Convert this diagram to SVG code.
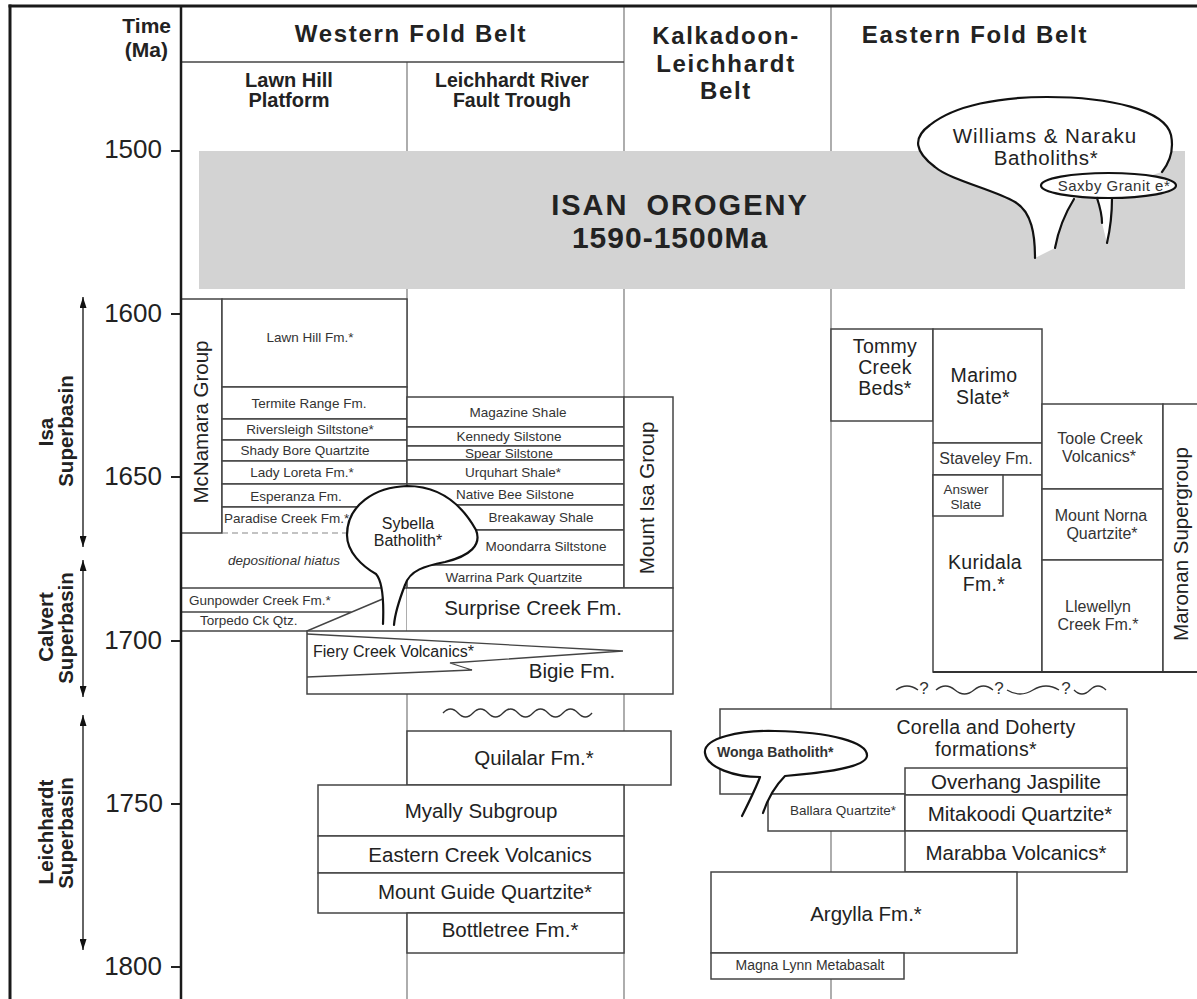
<svg xmlns="http://www.w3.org/2000/svg" width="1197" height="999" viewBox="0 0 1197 999">
<defs>
<marker id="ah" viewBox="0 0 11 7" refX="11" refY="3.5" markerWidth="11" markerHeight="7" markerUnits="userSpaceOnUse" orient="auto-start-reverse"><path d="M0,0 L11,3.5 L0,7 Z" fill="#111"/></marker>
</defs>
<style>
text{font-family:"Liberation Sans",Arial,Helvetica,sans-serif;fill:#222}
.box{fill:#fff;stroke:#444;stroke-width:1.5}
.ln{stroke:#444;stroke-width:1.5;fill:none}
.col{stroke:#777;stroke-width:1.2;fill:none}
.frame{stroke:#1a1a1a;fill:none}
.plut{fill:#fff;stroke:#111;stroke-width:2.2;stroke-linejoin:round;stroke-linecap:round}
.pl{fill:none;stroke:#111;stroke-width:2.2;stroke-linejoin:round;stroke-linecap:round}
.fw{fill:#fff;stroke:none}
.sm{font-size:13.5px;fill:#333;text-anchor:middle}
.md{font-size:20.5px;text-anchor:middle}
.m2{font-size:19.5px;text-anchor:middle;letter-spacing:0.3px}
.ed{font-size:16px;fill:#333;text-anchor:middle}
.hd{font-size:24px;font-weight:bold;text-anchor:middle;letter-spacing:1.7px}
.sh{font-size:20px;font-weight:bold;text-anchor:middle}
.tk{font-size:26px;text-anchor:end}
.sb{font-size:20.5px;font-weight:bold;text-anchor:middle}
.rot{font-size:20.5px;text-anchor:middle}
.wave{fill:none;stroke:#333;stroke-width:1.4}
</style>
<rect x="0" y="0" width="1197" height="999" fill="#fff"/>

<g id="grid">
<line class="col" x1="407" y1="62" x2="407" y2="999"/>
<line class="col" x1="624" y1="6" x2="624" y2="999"/>
<line class="col" x1="831" y1="6" x2="831" y2="999"/>
<line class="ln" x1="181" y1="62" x2="624" y2="62"/>
</g>

<g id="isan-orogeny">
<rect x="199" y="151" width="986" height="138" fill="#d3d3d3"/>
<text x="680" y="215" style="font-size:29px;font-weight:bold;text-anchor:middle;letter-spacing:2px;word-spacing:8px">ISAN OROGENY</text>
<text x="670" y="248" style="font-size:30px;font-weight:bold;text-anchor:middle;letter-spacing:1px">1590-1500Ma</text>
</g>

<g id="headers">
<text x="171" y="33" style="font-size:21px;font-weight:bold;text-anchor:end">Time</text>
<text x="168" y="57" style="font-size:21px;font-weight:bold;text-anchor:end">(Ma)</text>
<text class="hd" x="411" y="42">Western Fold Belt</text>
<text class="sh" x="289" y="87">Lawn Hill</text>
<text class="sh" x="289" y="107">Platform</text>
<text class="sh" x="512" y="87" style="font-size:19.5px">Leichhardt River</text>
<text class="sh" x="512" y="107" style="font-size:19.5px">Fault Trough</text>
<text class="hd" x="726" y="44">Kalkadoon-</text>
<text class="hd" x="726" y="72">Leichhardt</text>
<text class="hd" x="726" y="99">Belt</text>
<text class="hd" x="975" y="43">Eastern Fold Belt</text>
</g>

<g id="time-axis">
<path class="ln" style="stroke:#222;stroke-width:2" d="M171,151H181M171,314H181M171,477H181M171,641H181M171,804H181M171,967H181"/>
<text class="tk" x="162" y="158">1500</text>
<text class="tk" x="162" y="322">1600</text>
<text class="tk" x="162" y="485">1650</text>
<text class="tk" x="162" y="649">1700</text>
<text class="tk" x="163" y="812">1750</text>
<text class="tk" x="162" y="975">1800</text>
</g>

<g id="superbasins">
<text class="sb" transform="translate(53,432) rotate(-90)">Isa</text>
<text class="sb" transform="translate(73,431) rotate(-90)">Superbasin</text>
<text class="sb" transform="translate(53,627) rotate(-90)">Calvert</text>
<text class="sb" transform="translate(73,628) rotate(-90)">Superbasin</text>
<text class="sb" transform="translate(53,832) rotate(-90)">Leichhardt</text>
<text class="sb" transform="translate(73,833) rotate(-90)">Superbasin</text>
</g>

<g id="connectors">
<line x1="83" y1="297" x2="83" y2="547" stroke="#111" stroke-width="1.3" marker-start="url(#ah)" marker-end="url(#ah)"/>
<line x1="83" y1="560" x2="83" y2="697" stroke="#111" stroke-width="1.3" marker-start="url(#ah)" marker-end="url(#ah)"/>
<line x1="83" y1="715" x2="83" y2="950" stroke="#111" stroke-width="1.3" marker-start="url(#ah)" marker-end="url(#ah)"/>
</g>

<g id="lawn-hill-platform">
<g id="mcnamara-group"><rect class="box" x="181" y="299" width="41" height="234"/>
<text class="rot" transform="translate(208,422) rotate(-90)">McNamara Group</text></g>
<g id="lawn-hill-fm"><rect class="box" x="222" y="299" width="185" height="88"/><text class="sm" x="310" y="342">Lawn Hill Fm.*</text></g>
<g id="termite-range"><rect class="box" x="222" y="387" width="185" height="32"/><text class="sm" x="309" y="408">Termite Range Fm.</text></g>
<g id="riversleigh"><rect class="box" x="222" y="419" width="185" height="21"/><text class="sm" x="310" y="434">Riversleigh Siltstone*</text></g>
<g id="shady-bore"><rect class="box" x="222" y="440" width="185" height="21"/><text class="sm" x="305" y="455">Shady Bore Quartzite</text></g>
<g id="lady-loreta"><rect class="box" x="222" y="461" width="185" height="23"/><text class="sm" x="302" y="477">Lady Loreta Fm.*</text></g>
<g id="esperanza"><rect class="box" x="222" y="484" width="185" height="23"/><text class="sm" x="296" y="501">Esperanza Fm.</text></g>
<g id="paradise-creek"><rect class="fw" x="222" y="507" width="185" height="26"/><path class="ln" d="M222,533V507H407"/>
<line x1="222" y1="533" x2="352" y2="533" stroke="#888" stroke-width="1.2" stroke-dasharray="6 4"/>
<text class="sm" x="224" y="523" style="text-anchor:start">Paradise Creek Fm.*</text></g>
<g id="depositional-hiatus"><text class="sm" x="284" y="565" style="font-style:italic">depositional hiatus</text></g>
<g id="gunpowder-torpedo"><path class="ln" d="M181,588H407M181,612H352M181,631H307L385,598"/>
<text class="sm" x="189" y="605" style="text-anchor:start">Gunpowder Creek Fm.*</text>
<text class="sm" x="200" y="625" style="text-anchor:start">Torpedo Ck Qtz.</text></g>
</g>

<g id="leichhardt-river">
<g id="magazine"><rect class="box" x="407" y="397" width="217" height="30"/><text class="sm" x="518" y="417">Magazine Shale</text></g>
<g id="kennedy"><rect class="box" x="407" y="427" width="217" height="19"/><text class="sm" x="509" y="441">Kennedy Silstone</text></g>
<g id="spear"><rect class="box" x="407" y="446" width="217" height="14"/><text class="sm" x="509" y="457.5">Spear Silstone</text></g>
<g id="urquhart"><rect class="box" x="407" y="460" width="217" height="24"/><text class="sm" x="513" y="477">Urquhart Shale*</text></g>
<g id="native-bee"><rect class="box" x="407" y="484" width="217" height="21"/><text class="sm" x="515" y="499">Native Bee Silstone</text></g>
<g id="breakaway"><rect class="box" x="407" y="505" width="217" height="25"/><text class="sm" x="541" y="522">Breakaway Shale</text></g>
<g id="moondarra"><rect class="box" x="407" y="530" width="217" height="35"/><text class="sm" x="546" y="551">Moondarra Siltstone</text></g>
<g id="warrina"><rect class="box" x="407" y="565" width="217" height="23"/><text class="sm" x="514" y="582">Warrina Park Quartzite</text></g>
<g id="mount-isa-group"><rect class="box" x="624" y="397" width="49" height="191"/>
<text class="rot" transform="translate(654,498) rotate(-90)">Mount Isa Group</text></g>
<g id="surprise-creek"><rect class="fw" x="407" y="588" width="266" height="43"/><path class="ln" d="M407,588H673V631"/>
<text class="md" x="533" y="615">Surprise Creek Fm.</text></g>
<g id="fiery-bigie"><rect class="box" x="307" y="631" width="366" height="63"/>
<path d="M307,634 L623,651 L450,663 L472,670 L307,677" fill="none" stroke="#444" stroke-width="1.3"/>
<text x="313" y="657" style="font-size:16px">Fiery Creek Volcanics*</text>
<text class="md" x="572" y="678">Bigie Fm.</text></g>
</g>

<g id="sybella-batholith">
<path class="plut" d="M383,624 C384,600 383,582 376,574 C362,566 347,552 347,535 C347,505 375,487 407,486 C440,486 462,505 476,530 C482,545 470,556 445,562 C425,566 410,570 405,585 C400,598 395,612 394,625"/>
<text x="408" y="529" style="font-size:16px;text-anchor:middle">Sybella</text>
<text x="408" y="546" style="font-size:16px;text-anchor:middle">Batholith*</text>
</g>

<g id="unconformity-west">
<path class="wave" d="M443,713 Q450.5,705 458,713 T473,713 T488,713 T503,713 T518,713 T533,713 T548,713 T563,713 T578,713 T592,713"/>
</g>

<g id="leichhardt-superbasin-units">
<g id="quilalar"><rect class="box" x="407" y="731" width="264" height="54"/><text class="md" x="534" y="765">Quilalar Fm.*</text></g>
<g id="myally"><rect class="box" x="318" y="785" width="306" height="51"/><text class="md" x="481" y="818">Myally Subgroup</text></g>
<g id="eastern-creek"><rect class="box" x="318" y="836" width="306" height="37"/><text class="md" x="480" y="862">Eastern Creek Volcanics</text></g>
<g id="mount-guide"><rect class="box" x="318" y="873" width="306" height="40"/><text class="md" x="485" y="899">Mount Guide Quartzite*</text></g>
<g id="bottletree"><rect class="box" x="407" y="913" width="217" height="40"/><text class="md" x="510" y="937">Bottletree Fm.*</text></g>
</g>

<g id="eastern-upper">
<g id="tommy-creek"><rect class="box" x="831" y="329" width="102" height="92"/>
<text class="m2" x="885" y="353">Tommy</text><text class="m2" x="885" y="374">Creek</text><text class="m2" x="885" y="395">Beds*</text></g>
<g id="marimo"><rect class="box" x="933" y="329" width="109" height="114"/>
<text class="m2" x="984" y="382">Marimo</text><text class="m2" x="983" y="404">Slate*</text></g>
<g id="staveley"><rect class="box" x="933" y="443" width="109" height="32"/><text class="ed" x="986" y="464">Staveley Fm.</text></g>
<g id="kuridala"><rect class="box" x="933" y="475" width="109" height="197"/>
<text class="m2" x="985" y="569">Kuridala</text><text class="m2" x="984" y="591">Fm.*</text></g>
<g id="answer-slate"><rect class="box" x="933" y="475" width="70" height="41"/>
<text class="sm" x="966" y="494">Answer</text><text class="sm" x="966" y="509">Slate</text></g>
<g id="toole-creek"><rect class="box" x="1042" y="404" width="121" height="85"/>
<text class="ed" x="1100" y="444">Toole Creek</text><text class="ed" x="1099" y="462">Volcanics*</text></g>
<g id="mount-norna"><rect class="box" x="1042" y="489" width="121" height="71"/>
<text class="ed" x="1101" y="521">Mount Norna</text><text class="ed" x="1102" y="539">Quartzite*</text></g>
<g id="llewellyn"><rect class="box" x="1042" y="560" width="121" height="112"/>
<text class="ed" x="1098" y="612">Llewellyn</text><text class="ed" x="1098" y="630">Creek Fm.*</text></g>
<g id="maronan"><rect class="box" x="1163" y="404" width="40" height="268"/>
<text class="rot" transform="translate(1188,544) rotate(-90)">Maronan Supergroup</text></g>
<line x1="933" y1="672" x2="1197" y2="672" stroke="#333" stroke-width="2"/>
</g>

<g id="unconformity-east">
<path class="wave" d="M896,690 Q907,682 918,690"/>
<path class="wave" d="M936,690 Q945.5,682 955,690 T974,690 T993,690"/>
<path class="wave" d="M1007,690 Q1020,698 1033,690 T1059,690"/>
<path class="wave" d="M1074,690 Q1082,698 1090,690 T1106,690"/>
<text x="924" y="694" style="font-size:17px;text-anchor:middle;fill:#333">?</text>
<text x="999" y="694" style="font-size:17px;text-anchor:middle;fill:#333">?</text>
<text x="1066" y="694" style="font-size:17px;text-anchor:middle;fill:#333">?</text>
</g>

<g id="eastern-lower">
<g id="corella-doherty"><rect class="box" x="720" y="709" width="407" height="85"/>
<text class="m2" x="986" y="734">Corella and Doherty</text><text class="m2" x="986" y="756">formations*</text></g>
<g id="overhang"><rect class="box" x="905" y="768" width="222" height="27"/><text class="md" x="1016" y="789">Overhang Jaspilite</text></g>
<g id="ballara"><rect class="box" x="768" y="794" width="137" height="37"/><text class="sm" x="843" y="815">Ballara Quartzite*</text></g>
<g id="mitakoodi"><rect class="box" x="905" y="795" width="222" height="36"/><text class="md" x="1020" y="821">Mitakoodi Quartzite*</text></g>
<g id="marabba"><rect class="box" x="905" y="831" width="222" height="41"/><text class="md" x="1016" y="860">Marabba Volcanics*</text></g>
<g id="argylla"><rect class="box" x="711" y="872" width="306" height="81"/><text class="md" x="866" y="921">Argylla Fm.*</text></g>
<g id="magna-lynn"><rect class="box" x="711" y="953" width="193" height="26"/><text class="sm" x="810" y="970" style="font-size:14px">Magna Lynn Metabasalt</text></g>
</g>

<g id="wonga-batholith">
<path class="plut" d="M742,816 C750,800 756,788 760,777 C735,777 707,768 705,753 C703,738 740,730 775,731 C830,732 868,742 867,756 C866,768 820,773 785,776 C775,786 768,798 763,813"/>
<text x="717" y="757" style="font-size:14px;font-weight:bold;fill:#333">Wonga Batholith*</text>
</g>

<g id="williams-naraku-batholiths">
<path class="fw" d="M1035,258 C1035,235 1032,212 1015,202 C995,190 950,180 935,167 C915,152 912,138 930,125 C955,105 1000,97 1047,97 C1110,97 1165,110 1171,135 C1174,150 1170,162 1162,172 L1074,199 C1064,215 1058,232 1055,248 Z"/>
<path class="pl" d="M1035,258 C1035,235 1032,212 1015,202 C995,190 950,180 935,167 C915,152 912,138 930,125 C955,105 1000,97 1047,97 C1110,97 1165,110 1171,135 C1174,150 1170,162 1162,172"/>
<path class="pl" d="M1074,199 C1064,215 1058,232 1055,248"/>
<text x="1045" y="143" style="font-size:20.5px;text-anchor:middle;letter-spacing:1px">Williams &amp; Naraku</text>
<text x="1046" y="165" style="font-size:20.5px;text-anchor:middle;letter-spacing:0.6px">Batholiths*</text>
</g>
<g id="saxby-granite">
<path class="fw" d="M1097,198 C1100,207 1102,214 1102,223 L1107,243 C1110,230 1112,215 1112,198 Z"/>
<ellipse class="plut" cx="1108.5" cy="185.5" rx="67.5" ry="12.5"/>
<path class="pl" d="M1097,198 C1100,207 1102,214 1102,223"/>
<path class="pl" d="M1112,198 C1112,215 1110,230 1107,243"/>
<text x="1114" y="191" style="font-size:15px;text-anchor:middle;letter-spacing:0.5px;fill:#333">Saxby Granit e*</text>
</g>

<g id="frame">
<line class="frame" x1="10" y1="4.5" x2="10" y2="999" stroke-width="3"/>
<line class="frame" x1="8.5" y1="6" x2="1197" y2="6" stroke-width="3"/>
<line class="frame" x1="181" y1="6" x2="181" y2="999" stroke-width="2.5"/>
</g>
</svg>
